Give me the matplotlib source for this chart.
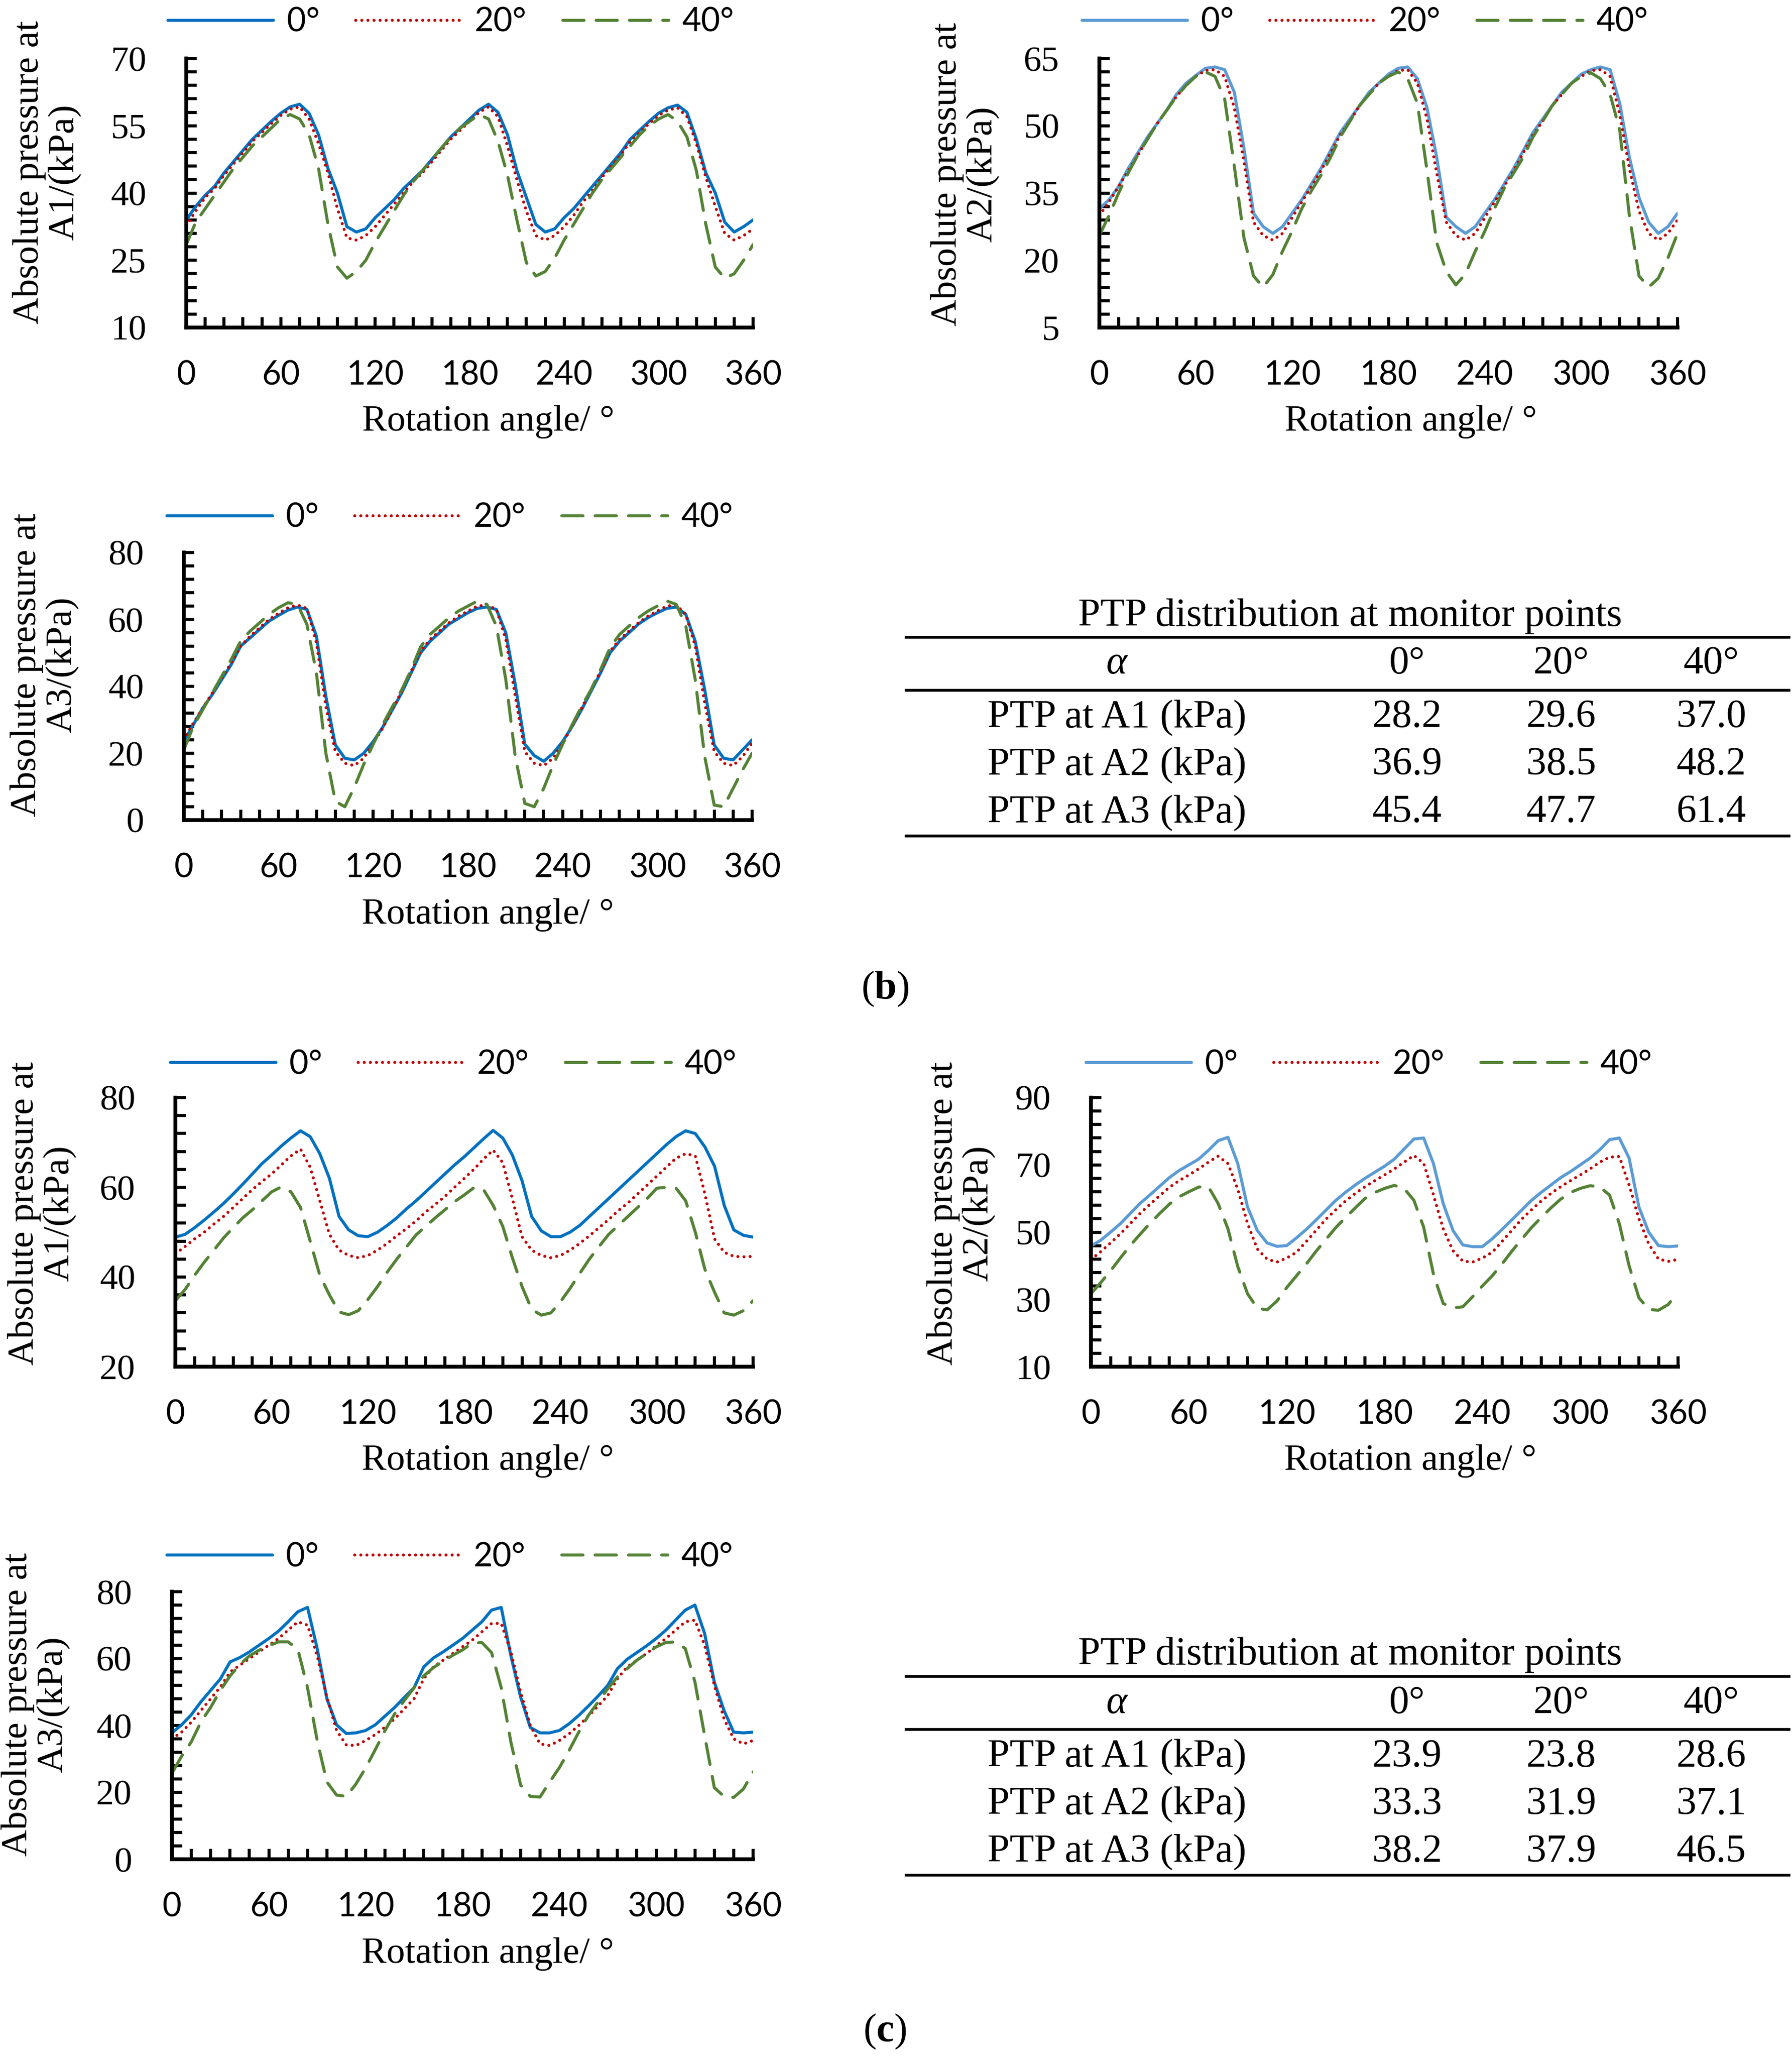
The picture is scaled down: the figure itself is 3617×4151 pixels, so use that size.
import matplotlib
matplotlib.use('Agg')
import matplotlib.pyplot as plt
from matplotlib.lines import Line2D
import numpy as np

plt.rcParams['font.family'] = 'Liberation Serif'
plt.rcParams['mathtext.fontset'] = 'custom'
plt.rcParams['mathtext.rm'] = 'Liberation Serif'
plt.rcParams['mathtext.bf'] = 'Liberation Serif:bold'

W, H = 3617, 4151

# rotation angle, every 6 degrees
angle = list(range(0, 361, 6))
legend_labels = ['0°', '20°', '40°']

# ---- (b) ----
b_a1_0 = [34.0, 37.0, 39.5, 41.5, 44.5, 47.0, 49.5, 52.0, 54.0, 56.0, 57.8, 59.2, 59.8, 57.8, 53.0, 45.5, 40.0, 32.5, 31.3, 32.0, 34.5,
          36.5, 38.5, 41.0, 43.0, 45.0, 47.5, 50.0, 52.5, 54.5, 56.5, 58.5, 59.8, 58.0, 53.0, 45.0, 39.0, 33.0, 31.3, 32.0, 34.5,
          36.5, 39.0, 41.5, 44.0, 46.5, 49.0, 52.0, 54.0, 56.0, 57.8, 59.0, 59.6, 58.0, 52.0, 44.5, 40.0, 33.5, 31.3, 32.5, 34.0]
b_a1_20 = [32.7, 36.0, 39.0, 41.0, 44.0, 46.5, 49.0, 51.5, 53.5, 55.5, 57.3, 58.7, 59.2, 56.5, 51.0, 44.5, 36.5, 30.0, 29.5, 30.5, 32.5,
           35.0, 37.5, 40.0, 42.5, 44.5, 47.0, 49.5, 52.0, 54.0, 56.0, 58.0, 59.2, 57.0, 50.5, 43.0, 36.0, 30.5, 29.5, 30.5, 32.5,
           35.0, 38.0, 40.5, 43.5, 46.0, 48.5, 51.5, 53.5, 55.5, 57.3, 58.5, 59.0, 57.0, 51.0, 43.5, 37.0, 31.0, 29.5, 30.5, 32.0]
b_a1_40 = [28.5, 33.5, 36.5, 39.5, 42.5, 45.5, 48.0, 50.5, 52.5, 54.5, 56.5, 57.5, 56.5, 53.0, 45.5, 33.0, 23.5, 21.0, 22.5, 25.0, 29.0,
           32.5, 36.0, 39.5, 42.5, 45.0, 47.5, 50.0, 52.5, 54.5, 56.0, 57.5, 56.5, 51.5, 44.0, 34.0, 24.5, 21.5, 22.5, 25.5, 29.5,
           33.0, 36.5, 40.0, 43.0, 45.5, 48.0, 50.5, 53.0, 55.0, 56.5, 57.5, 56.0, 52.5, 45.0, 33.0, 23.5, 21.0, 22.0, 25.0, 28.5]

b_a2_0 = [31.5, 33.5, 36.5, 40.5, 44.0, 47.5, 50.5, 53.5, 57.0, 59.5, 61.2, 62.8, 63.1, 62.5, 57.5, 45.0, 30.5, 27.5, 26.0, 27.5, 30.5,
          33.5, 37.0, 40.5, 44.5, 48.5, 51.5, 54.5, 57.5, 59.5, 61.5, 62.8, 63.1, 60.5, 54.0, 43.0, 29.6, 27.5, 26.0, 27.5, 30.5,
          33.5, 37.0, 40.5, 44.5, 48.5, 51.5, 54.5, 57.5, 59.5, 61.5, 62.5, 63.1, 62.5, 55.0, 43.0, 34.0, 28.5, 26.0, 27.5, 30.5]
b_a2_20 = [30.0, 33.0, 36.5, 40.0, 43.5, 47.0, 50.5, 53.5, 56.5, 59.0, 61.0, 62.3, 62.5, 61.0, 54.0, 42.0, 28.5, 25.5, 24.5, 26.0, 29.5,
           33.0, 36.5, 40.0, 44.0, 48.0, 51.0, 54.5, 57.0, 59.5, 61.0, 62.3, 62.5, 59.5, 51.5, 39.5, 28.5, 25.5, 24.5, 26.0, 29.5,
           33.0, 36.5, 40.0, 44.0, 48.0, 51.0, 54.5, 57.0, 59.5, 61.0, 62.3, 62.5, 61.0, 52.5, 40.5, 31.0, 26.0, 24.5, 26.0, 29.0]
b_a2_40 = [25.5, 30.0, 35.0, 39.5, 43.5, 47.0, 50.5, 53.5, 56.5, 59.0, 61.0, 62.0, 61.0, 56.0, 41.0, 25.0, 16.5, 14.0, 16.8, 22.0, 26.5,
           31.5, 35.5, 39.0, 43.0, 47.5, 51.0, 54.5, 57.0, 59.5, 61.0, 62.0, 60.5, 55.0, 40.0, 24.0, 17.5, 14.5, 17.0, 22.0, 26.5,
           31.5, 36.0, 39.5, 43.0, 47.5, 51.0, 54.5, 57.0, 59.5, 61.0, 61.8, 60.5, 57.0, 49.0, 30.0, 16.5, 14.0, 16.0, 20.5, 26.0]

b_a3_0 = [23.5, 28.5, 33.5, 37.5, 42.0, 46.5, 52.0, 54.5, 57.0, 59.5, 61.2, 62.8, 63.7, 63.0, 55.0, 37.0, 22.5, 18.5, 18.0, 20.0, 23.5,
          27.8, 32.9, 38.0, 44.0, 50.0, 53.5, 56.0, 58.6, 60.3, 62.0, 63.3, 63.7, 63.0, 56.0, 40.5, 22.7, 19.3, 17.6, 20.0, 23.5,
          28.0, 33.0, 38.5, 44.0, 50.0, 53.5, 56.0, 58.6, 60.5, 62.0, 63.3, 63.7, 61.5, 53.5, 39.0, 22.5, 18.5, 18.0, 21.0, 24.0]
b_a3_20 = [24.0, 29.0, 33.5, 38.0, 42.5, 47.0, 52.0, 55.0, 57.5, 60.0, 61.8, 63.5, 64.3, 63.3, 53.0, 34.0, 20.5, 17.0, 16.3, 18.5, 23.0,
           27.5, 33.0, 38.5, 44.5, 50.5, 54.0, 56.5, 59.0, 61.0, 62.5, 64.0, 64.3, 63.0, 54.0, 37.0, 20.5, 17.0, 16.3, 18.5, 23.0,
           28.0, 33.5, 39.0, 44.5, 50.5, 54.0, 56.5, 59.0, 61.0, 62.5, 64.0, 64.3, 61.5, 52.0, 35.0, 20.5, 17.0, 16.3, 19.0, 23.0]
b_a3_40 = [21.0, 28.0, 33.0, 38.0, 43.0, 48.0, 53.5, 56.5, 59.0, 61.5, 63.5, 65.0, 64.5, 58.5, 44.0, 20.0, 5.6, 4.0, 9.8, 16.7, 22.7,
           28.6, 33.8, 38.9, 44.9, 51.8, 55.5, 58.0, 60.5, 62.5, 64.0, 65.5, 64.5, 58.0, 42.0, 19.0, 5.0, 4.0, 9.5, 16.5, 22.7,
           28.5, 34.0, 39.0, 45.0, 51.5, 55.5, 58.0, 60.5, 62.5, 64.0, 65.5, 64.5, 58.0, 42.0, 19.0, 4.5, 4.0, 9.5, 15.0, 20.0]

# ---- (c) ----
c_a1_0 = [48.9, 49.5, 51.0, 52.7, 54.5, 56.4, 58.5, 60.7, 63.0, 65.3, 67.2, 69.2, 71.0, 72.6, 71.3, 67.5, 62.0, 53.5, 50.5, 49.2, 49.0,
          50.0, 51.5, 53.2, 55.2, 57.0, 59.0, 61.0, 63.0, 65.0, 66.8, 68.8, 70.8, 72.7, 71.0, 67.2, 61.5, 53.5, 50.3, 49.0, 49.0,
          50.0, 51.5, 53.5, 55.5, 57.5, 59.5, 61.5, 63.5, 65.5, 67.5, 69.5, 71.3, 72.6, 72.0, 69.0, 64.7, 56.0, 50.5, 49.3, 48.9]
c_a1_20 = [45.2, 46.8, 48.5, 50.0, 51.8, 53.5, 55.5, 57.5, 59.5, 61.3, 63.0, 65.0, 67.0, 68.5, 64.5, 57.0, 49.5, 46.0, 44.8, 44.3, 44.8,
           46.0, 47.5, 49.2, 50.8, 52.5, 54.5, 56.2, 58.0, 60.0, 62.0, 64.0, 66.3, 68.3, 65.5, 57.5, 49.0, 46.0, 44.8, 44.3, 44.8,
           46.0, 47.5, 49.2, 51.0, 52.8, 54.8, 56.5, 58.5, 60.5, 62.5, 64.5, 66.5, 67.5, 67.0, 58.5, 48.5, 45.5, 44.6, 44.5, 44.6]
c_a1_40 = [34.7, 37.2, 40.4, 43.3, 46.0, 48.7, 51.0, 53.2, 55.0, 57.0, 59.0, 60.1, 59.0, 55.5, 48.0, 40.4, 36.0, 32.2, 31.6, 32.5, 35.0,
           37.9, 41.1, 44.0, 46.7, 49.4, 51.3, 53.2, 55.0, 56.8, 58.3, 59.9, 59.5, 56.0, 51.3, 44.3, 37.9, 32.8, 31.5, 32.0, 34.5,
           37.5, 40.8, 44.0, 46.8, 49.5, 51.5, 53.5, 55.5, 57.5, 59.8, 60.0, 59.8, 57.0, 50.0, 41.7, 36.6, 32.0, 31.5, 32.5, 34.7]

c_a2_0 = [45.9, 47.6, 50.0, 52.5, 55.5, 58.5, 61.0, 63.6, 66.2, 68.3, 70.0, 71.7, 74.3, 77.2, 78.2, 70.4, 57.5, 50.5, 46.8, 45.8, 46.0,
          48.3, 50.8, 53.6, 56.5, 59.4, 61.8, 64.0, 66.0, 67.8, 69.6, 71.7, 74.7, 77.7, 78.0, 70.4, 58.5, 50.5, 46.2, 45.7, 45.7,
          48.0, 50.8, 53.6, 56.5, 59.4, 61.8, 64.0, 66.2, 68.0, 70.0, 72.0, 74.5, 77.5, 78.0, 72.0, 57.5, 50.0, 46.0, 45.7, 45.9]
c_a2_20 = [41.9, 44.2, 46.8, 49.5, 52.5, 55.5, 58.2, 60.8, 63.3, 65.3, 67.0, 68.8, 70.8, 72.6, 70.4, 62.8, 52.6, 45.0, 42.0, 41.1, 42.3,
           44.0, 47.2, 50.5, 53.8, 56.6, 59.2, 61.5, 63.5, 65.3, 67.0, 68.8, 70.8, 72.8, 70.5, 61.1, 51.0, 44.5, 41.4, 41.1, 42.3,
           44.0, 47.2, 50.5, 53.8, 56.6, 59.2, 61.5, 63.5, 65.3, 67.0, 68.8, 70.8, 72.3, 72.5, 64.0, 54.0, 46.5, 42.0, 41.3, 41.9]
c_a2_40 = [31.7, 35.0, 38.5, 42.3, 46.0, 49.3, 52.5, 55.5, 58.3, 60.5, 62.0, 63.4, 63.5, 58.5, 51.0, 39.8, 31.7, 27.4, 26.9, 29.5, 33.5,
           37.0, 40.5, 44.3, 47.8, 51.3, 54.3, 57.2, 60.0, 61.8, 63.0, 63.9, 63.0, 59.5, 51.5, 37.5, 28.8, 27.5, 27.8, 30.8, 34.0,
           37.0, 40.5, 44.3, 47.8, 51.3, 54.3, 57.2, 59.8, 61.8, 63.0, 63.8, 63.5, 61.0, 52.5, 40.0, 30.5, 27.0, 26.8, 28.5, 32.1]

c_a3_0 = [37.8, 40.2, 43.2, 47.1, 50.5, 53.9, 59.0, 60.3, 62.0, 64.0, 66.0, 68.2, 71.0, 74.0, 75.3, 63.0, 48.0, 40.2, 37.6, 37.8, 38.5,
          40.2, 42.8, 45.4, 48.4, 51.3, 57.5, 60.2, 62.0, 64.0, 66.0, 68.5, 71.0, 74.5, 75.3, 60.8, 48.5, 39.4, 37.8, 37.8, 38.5,
          40.5, 43.0, 45.8, 48.8, 52.0, 57.0, 59.8, 61.8, 63.8, 66.0, 68.5, 71.5, 74.5, 76.0, 67.5, 53.0, 44.5, 38.0, 37.8, 38.0]
c_a3_20 = [36.0, 38.0, 41.0, 44.5, 48.0, 51.5, 56.0, 58.0, 60.0, 62.0, 64.0, 66.0, 68.5, 71.0, 70.0, 60.8, 48.5, 38.5, 34.2, 34.0, 35.5,
           37.3, 39.5, 42.0, 45.0, 48.0, 54.0, 57.5, 59.5, 61.5, 63.5, 65.5, 68.0, 70.5, 70.5, 62.0, 50.0, 40.0, 34.5, 34.0, 35.5,
           37.5, 40.0, 42.8, 45.8, 49.0, 54.0, 57.5, 59.5, 61.5, 63.8, 66.0, 68.5, 71.0, 71.5, 64.0, 52.0, 42.0, 36.0, 34.5, 35.5]
c_a3_40 = [25.7, 30.8, 35.1, 41.1, 45.4, 50.5, 54.8, 58.2, 60.8, 62.5, 63.8, 65.0, 65.0, 62.8, 51.3, 35.5, 23.1, 19.2, 18.8, 22.5, 27.3,
           32.8, 38.5, 43.5, 47.5, 51.3, 54.8, 57.3, 59.2, 61.0, 62.6, 64.6, 64.8, 61.8, 51.3, 35.0, 22.2, 18.8, 18.6, 23.1, 27.4,
           32.5, 38.0, 43.0, 47.0, 51.0, 54.5, 57.0, 59.5, 61.5, 63.5, 64.8, 65.0, 63.0, 53.0, 37.0, 21.4, 18.8, 18.5, 21.0, 26.1]

# PTP tables
table_cols = ['0°', '20°', '40°']
table_rows = ['PTP at A1 (kPa)', 'PTP at A2 (kPa)', 'PTP at A3 (kPa)']
ptp_b = [[28.2, 29.6, 37.0], [36.9, 38.5, 48.2], [45.4, 47.7, 61.4]]
ptp_c = [[23.9, 23.8, 28.6], [33.3, 31.9, 37.1], [38.2, 37.9, 46.5]]

BLUE = '#0070C0'
LIGHTBLUE = '#5B9BD5'
RED = '#C00000'
GREEN = '#548235'
LW = 4.4


def fx(px):
    return px / W


def fy(py):
    return 1 - py / H


fig = plt.figure(figsize=(W / 100, H / 100), dpi=100)


def panel(box, series, ylim, ystep, point, leg_xy, ylab_xy, xlab_xy, blue):
    left, top, right, bottom = box
    ax = fig.add_axes([fx(left), fy(bottom), (right - left) / W, (bottom - top) / H])
    ax.plot(angle, series[0], color=blue, lw=LW, solid_capstyle='round', label=legend_labels[0])
    ax.plot(angle, series[1], color=RED, lw=LW, ls=(0, (0.01, 2.0)), dash_capstyle='round',
            label=legend_labels[1])
    ax.plot(angle, series[2], color=GREEN, lw=LW, ls=(0, (7, 4)), dash_capstyle='round',
            label=legend_labels[2])

    ax.set_xlim(0, 360)
    ax.set_ylim(ylim[0], ylim[1])
    ax.set_xticks(np.arange(0, 361, 60))
    ax.set_xticks(np.arange(0, 361, 12), minor=True)
    ax.set_yticks(np.arange(ylim[0], ylim[1] + 0.01, ystep))
    ax.set_yticks(np.arange(ylim[0], ylim[1] + 0.01, ystep / 5), minor=True)
    for s in ('top', 'right'):
        ax.spines[s].set_visible(False)
    for s in ('left', 'bottom'):
        ax.spines[s].set_linewidth(5.5)
    ax.tick_params(which='both', direction='in', length=15, width=4.5, color='black')
    ax.tick_params(axis='x', which='major', pad=47, labelsize=48)
    ax.tick_params(axis='y', which='major', pad=58, labelsize=52)
    plt.setp(ax.get_xticklabels(), family='Lato')
    plt.setp(ax.get_yticklabels(), family='Liberation Serif')

    ax.legend(loc='center', bbox_to_anchor=(fx(leg_xy[0]), fy(leg_xy[1] + 10)),
              bbox_transform=fig.transFigure, ncol=3, frameon=False,
              prop={'family': 'Lato', 'size': 48}, handlelength=3.2,
              handletextpad=0.4, columnspacing=1.1, borderaxespad=0, borderpad=0)

    fig.text(fx(ylab_xy[0]), fy(ylab_xy[1]), 'Absolute pressure at\n' + point + '/(kPa)',
             rotation=90, ha='center', va='center', ma='center', size=54, linespacing=1.08)
    fig.text(fx(xlab_xy[0]), fy(xlab_xy[1]), 'Rotation angle/ °', ha='center', va='baseline', size=54)
    return ax


def table(values, dy):
    fig.text(fx(2725), fy(1243 + dy), 'PTP distribution at monitor points',
             ha='center', va='center', size=58)
    for y in (1286, 1393, 1687):
        fig.add_artist(Line2D([fx(1829), fx(3611)], [fy(y + dy), fy(y + dy)],
                              color='black', lw=4, transform=fig.transFigure))
    col_x = [2840, 3151, 3454]
    fig.text(fx(2254), fy(1340 + dy), 'α', style='italic', ha='center', va='center', size=58)
    for cx, c in zip(col_x, table_cols):
        fig.text(fx(cx), fy(1340 + dy), c, ha='center', va='center', size=58)
    for i, (name, row) in enumerate(zip(table_rows, values)):
        ry = 1448 + 96 * i + dy
        fig.text(fx(2254), fy(ry), name, ha='center', va='center', size=58)
        for cx, v in zip(col_x, row):
            fig.text(fx(cx), fy(ry), '%.1f' % v, ha='center', va='center', size=58)


DY = 2097

# (b)
panel((376, 118, 1520, 661), [b_a1_0, b_a1_20, b_a1_40], (10, 70), 15, 'A1',
      (910, 35), (95, 348), (986, 869), BLUE)
panel((2219, 118, 3386, 661), [b_a2_0, b_a2_20, b_a2_40], (5, 65), 15, 'A2',
      (2755, 35), (1948, 352), (2848, 869), LIGHTBLUE)
panel((371, 1115, 1518, 1655), [b_a3_0, b_a3_20, b_a3_40], (0, 80), 20, 'A3',
      (908, 1035), (90, 1342), (985, 1864), BLUE)
table(ptp_b, 0)
fig.text(fx(1786), fy(1996), r'($\mathbf{b}$)', ha='center', va='center', size=58)

# (c)
panel((354, 2215, 1520, 2758), [c_a1_0, c_a1_20, c_a1_40], (20, 80), 20, 'A1',
      (915, 2138), (85, 2449), (985, 2966), BLUE)
panel((2202, 2215, 3387, 2758), [c_a2_0, c_a2_20, c_a2_40], (10, 90), 20, 'A2',
      (2763, 2138), (1940, 2449), (2847, 2966), LIGHTBLUE)
panel((347, 3212, 1520, 3752), [c_a3_0, c_a3_20, c_a3_40], (0, 80), 20, 'A3',
      (908, 3132), (72, 3440), (985, 3961), BLUE)
table(ptp_c, DY)
fig.text(fx(1786), fy(4100), r'($\mathbf{c}$)', ha='center', va='center', size=58)

fig.savefig('out.png', dpi=100)
